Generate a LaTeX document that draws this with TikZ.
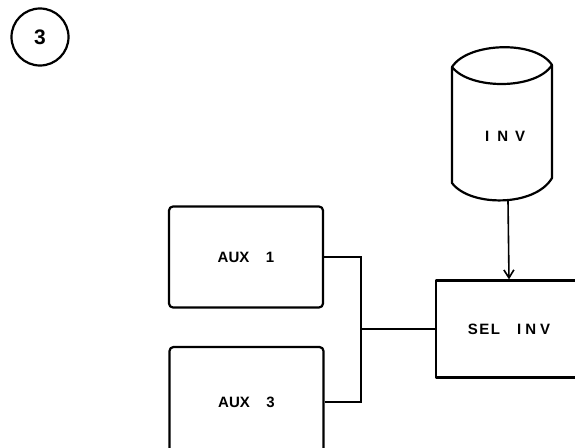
\documentclass[tikz,border=0pt]{standalone}
\usepackage{fontspec}
\setmainfont{Liberation Sans}
\usetikzlibrary{arrows.meta}
\begin{document}
\begin{tikzpicture}[x=1pt,y=-1pt,
  every node/.style={font=\bfseries\fontsize{15}{17}\selectfont},
  ln/.style={line width=2.2pt, line join=round, line cap=round},
  auxbox/.style={ln, draw, rounded corners=4pt, minimum width=154pt, inner sep=0pt},
  selbox/.style={ln, draw, minimum width=146pt, minimum height=97pt, inner sep=0pt},
  conn/.style={line width=1.6pt}
]
\useasboundingbox (0,0) rectangle (575,447);
\clip (0,0) rectangle (575,447);
% number circle
\node[ln, draw, circle, minimum size=57pt, inner sep=0pt, font=\bfseries\fontsize{21}{23}\selectfont] (num) at (40,37) {3};
% cylinder
\draw[ln] (452,67) .. controls (468,42) and (536,40) .. (552,65)
          .. controls (536,90) and (470,90) .. (452,67) -- cycle;
\draw[ln] (452,67) -- (452,183) .. controls (470,207) and (535,207) .. (552,178) -- (552,65);
\node (inv) at (505,136) {I\hspace{0.55em}N\hspace{0.45em}V};
\coordinate (cylbot) at (508,201);
% boxes
\node[auxbox, minimum height=101pt] (aux1) at (246,257) {AUX\hspace{1.1em}1};
\node[auxbox, minimum height=110pt] (aux3) at (246.5,402) {AUX\hspace{1.1em}3};
\node[selbox] (sel) at (509,329) {S\kern1.5pt E\kern1.5pt L\hspace{17pt}I\kern4pt N\kern4pt V};
% connectors
\coordinate (j) at (361,329);
\draw[conn] (aux1.east) -| (j) -- (sel.west);
\draw[conn] (aux3.east) -| (j);
\draw[conn, -{Straight Barb[length=8pt, width=10pt, line width=1.6pt]}] (cylbot) -- (sel.north);
\end{tikzpicture}
\end{document}
